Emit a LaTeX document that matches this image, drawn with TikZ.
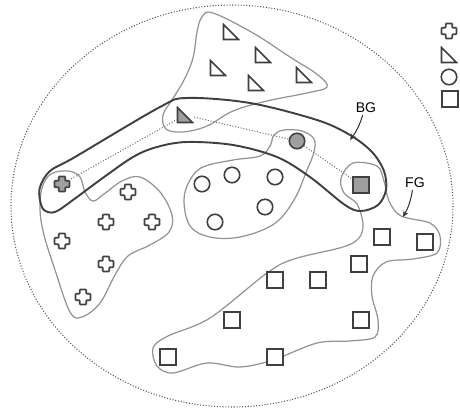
\documentclass[tikz,border=0pt]{standalone}
\usepackage{fontspec}
\setsansfont{Liberation Sans}
\usetikzlibrary{arrows.meta,calc}

\begin{document}
\begin{tikzpicture}[
    x=0.02cm, y=-0.02cm,
    >={Stealth[length=3.5pt,width=3pt]},
    frame/.style={densely dotted, draw=black!65, line width=0.6pt},
    blob/.style={draw=gray!85, line width=0.7pt},
    band/.style={draw=black!75, line width=1.1pt},
    link/.style={densely dotted, draw=gray!90!black, line width=0.6pt},
    markline/.style={draw=black!75, line width=0.9pt},
    glyph/.style={inner sep=0pt, minimum size=0.35cm},
    trimark/.style={
        glyph,
        path picture={
            \draw[markline, #1]
            ($(path picture bounding box.north west)!0.07!(path picture bounding box.south east)$)
            -- ($(path picture bounding box.south west)!0.07!(path picture bounding box.north east)$)
            -- ($(path picture bounding box.south east)!0.07!(path picture bounding box.north west)$)
            -- cycle;
        }
    },
    trimark/.default={fill=white},
    crossmark/.style={
        glyph,
        path picture={
            \draw[markline, #1, rounded corners=0.4pt,
                  shift={(path picture bounding box.center)}]
            (-0.065cm,0.15cm) -- (0.065cm,0.15cm) -- (0.065cm,0.065cm)
            -- (0.15cm,0.065cm) -- (0.15cm,-0.065cm) -- (0.065cm,-0.065cm)
            -- (0.065cm,-0.15cm) -- (-0.065cm,-0.15cm) -- (-0.065cm,-0.065cm)
            -- (-0.15cm,-0.065cm) -- (-0.15cm,0.065cm) -- (-0.065cm,0.065cm)
            -- cycle;
        }
    },
    crossmark/.default={fill=white},
    circmark/.style={circle, markline, fill=white, inner sep=0pt, minimum size=0.31cm},
    sqmark/.style={rectangle, markline, fill=white, inner sep=0pt, minimum size=0.32cm},
    label/.style={font=\sffamily\fontsize{8}{9}\selectfont, inner sep=1pt},
    pointer/.style={->, draw=black!80, line width=0.6pt}
]
\useasboundingbox (0,0) rectangle (460,409);

% FRAME
\draw[frame] (232,206) ellipse [x radius=221, y radius=201];

% GROUPS
\draw[blob] plot[smooth cycle, tension=0.6] coordinates {
    (213,13) (253,33) (290,57) (318,75) (327,87) (307,93) (267,101)
    (233,111) (207,126) (183,132) (166,129) (163,115) (172,100)
    (184,80) (193,58) (197,32) (202,17)};

\draw[blob] plot[smooth cycle, tension=0.6] coordinates {
    (42,188) (51,174) (68,171) (80,177) (85,192) (93,201) (104,194)
    (122,181) (140,177) (160,192) (172,215) (169,232) (150,245)
    (128,256) (115,275) (100,303) (82,317) (70,312) (55,270) (44,235)
    (40,210)};

\draw[blob] plot[smooth cycle, tension=0.6] coordinates {
    (284,130) (302,131) (314,139) (314,152) (307,170) (294,200)
    (274,224) (240,237) (210,237) (190,226) (184,200) (190,180)
    (203,167) (233,160) (260,156) (270,146) (274,135)};

\draw[blob] plot[smooth cycle, tension=0.55] coordinates {
    (353,163) (377,166) (384,181) (389,201) (401,216) (430,223)
    (440,236) (437,253) (413,259) (386,262) (373,276) (372,296)
    (378,320) (375,337) (350,341) (317,343) (273,360) (240,367)
    (207,363) (173,373) (157,366) (153,348) (168,336) (210,318)
    (267,273) (294,259) (343,247) (359,238) (363,224) (357,204)
    (344,193) (341,178)};

% BG BAND
\draw[band] plot[smooth cycle, tension=0.55] coordinates {
    (40,187) (50,171) (75,157) (160,107) (187,98) (250,103) (317,120)
    (350,135) (372,152) (384,171) (386,190) (378,205) (361,211)
    (345,205) (310,177) (277,157) (233,145) (187,142) (157,147)
    (133,157) (100,180) (73,200) (55,212) (44,210) (40,200)};

% TRIANGLES
\node[trimark] (t1) at (231,32) {};
\node[trimark] (t2) at (263,55) {};
\node[trimark] (t3) at (218,68) {};
\node[trimark] (t4) at (256,83) {};
\node[trimark] (t5) at (304,75) {};
\node[trimark={fill=gray!75}] (t0) at (185,115) {};

% CROSSES
\node[crossmark={fill=gray!75}] (x0) at (62,184) {};
\node[crossmark] (x1) at (128,192) {};
\node[crossmark] (x2) at (106,222) {};
\node[crossmark] (x3) at (152,222) {};
\node[crossmark] (x4) at (62,241) {};
\node[crossmark] (x5) at (106,264) {};
\node[crossmark] (x6) at (83,297) {};

% CIRCLES
\node[circmark, fill=gray!75] (o0) at (297,141) {};
\node[circmark] (o1) at (202,184) {};
\node[circmark] (o2) at (232,175) {};
\node[circmark] (o3) at (275,177) {};
\node[circmark] (o4) at (265,207) {};
\node[circmark] (o5) at (215,222) {};

% SQUARES
\node[sqmark, fill=gray!75] (s0) at (361,185) {};
\node[sqmark] (s1) at (382,237) {};
\node[sqmark] (s2) at (425,242) {};
\node[sqmark] (s3) at (359,264) {};
\node[sqmark] (s4) at (275,280) {};
\node[sqmark] (s5) at (318,280) {};
\node[sqmark] (s6) at (232,320) {};
\node[sqmark] (s7) at (361,320) {};
\node[sqmark] (s8) at (168,357) {};
\node[sqmark] (s9) at (275,357) {};

% LINKS
\draw[link] (x0) -- (t0) (t0) -- (o0) (o0) -- (s0);

% LABELS
\node[label] (bg) at (366,108) {BG};
\coordinate (bgtip) at (350,140);
\draw[pointer] (bg.-115) to[bend left=10] (bgtip);

\node[label] (fg) at (415,183) {FG};
\coordinate (fgtip) at (403,217);
\draw[pointer] (fg.-110) to[bend left=10] (fgtip);

% LEGEND
\node[crossmark] (lx) at (449,31) {};
\node[trimark] (lt) at (449,55) {};
\node[circmark] (lo) at (449,77) {};
\node[sqmark] (ls) at (450,99) {};

\end{tikzpicture}
\end{document}
